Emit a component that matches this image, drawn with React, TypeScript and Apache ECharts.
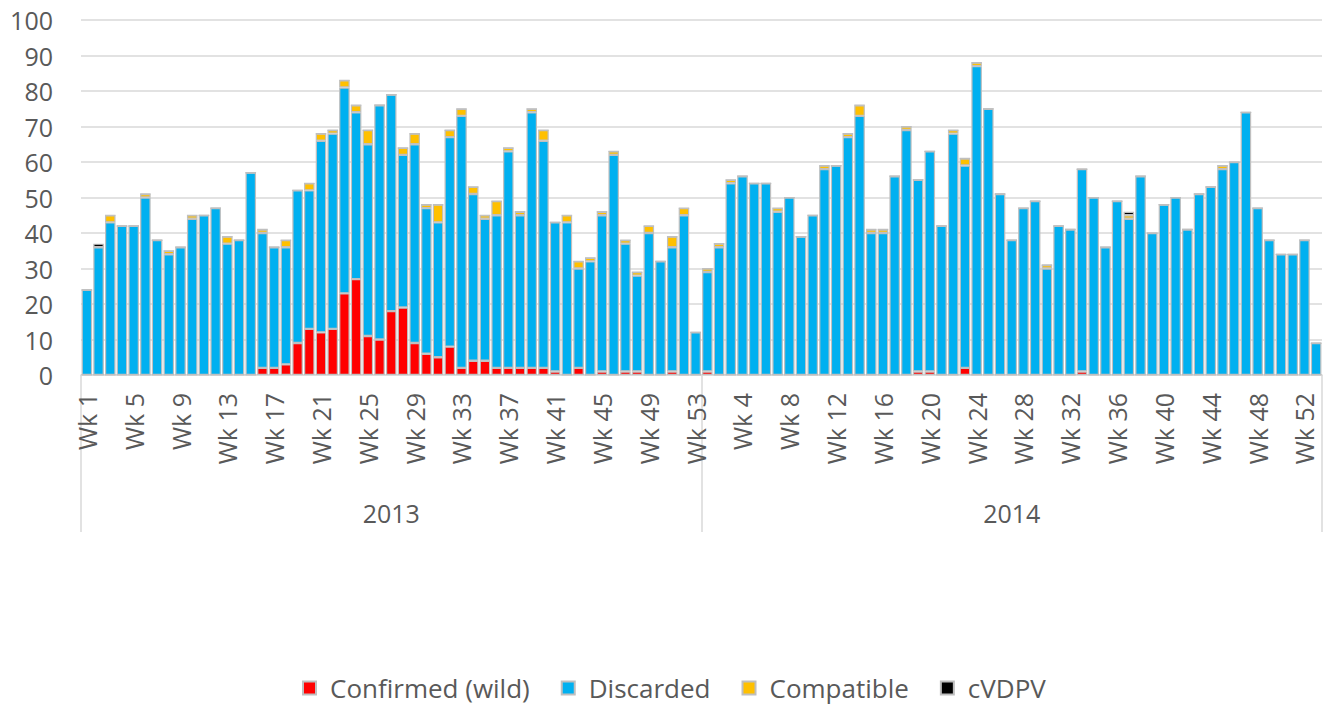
import React, { useEffect, useRef } from 'react';
import * as echarts from 'echarts';

const years = ['2013', '2014'];
const weeksPerYear = [53, 53];
const yTicks = { min: 0, max: 100, interval: 10 };

// 2013, weeks 1..53
const confirmed2013 = [0,0,0,0,0,0,0,0,0,0,0,0,0,0,0,2,2,3,9,13,12,13,23,27,11,10,18,19,9,6,5,8,2,4,4,2,2,2,2,2,1,0,2,0,1,0,1,1,0,0,1,0,0];
const discarded2013 = [24,36,43,42,42,50,38,34,36,44,45,47,37,38,57,38,34,33,43,39,54,55,58,47,54,66,61,43,56,41,38,59,71,47,40,43,61,43,72,64,42,43,28,32,44,62,36,27,40,32,35,45,12];
const compatible2013 = [0,0,2,0,0,1,0,1,0,1,0,0,2,0,0,1,0,2,0,2,2,1,2,2,4,0,0,2,3,1,5,2,2,2,1,4,1,1,1,3,0,2,2,1,1,1,1,1,2,0,3,2,0];
const cvdpv2013 = [0,1,0,0,0,0,0,0,0,0,0,0,0,0,0,0,0,0,0,0,0,0,0,0,0,0,0,0,0,0,0,0,0,0,0,0,0,0,0,0,0,0,0,0,0,0,0,0,0,0,0,0,0];

// 2014, weeks 1..53
const confirmed2014 = [1,0,0,0,0,0,0,0,0,0,0,0,0,0,0,0,0,0,1,1,0,0,2,0,0,0,0,0,0,0,0,0,1,0,0,0,0,0,0,0,0,0,0,0,0,0,0,0,0,0,0,0,0];
const discarded2014 = [28,36,54,56,54,54,46,50,39,45,58,59,67,73,40,40,56,69,54,62,42,68,57,87,75,51,38,47,49,30,42,41,57,50,36,49,44,56,40,48,50,41,51,53,58,60,74,47,38,34,34,38,9];
const compatible2014 = [1,1,1,0,0,0,1,0,0,0,1,0,1,3,1,1,0,1,0,0,0,1,2,1,0,0,0,0,0,1,0,0,0,0,0,0,1,0,0,0,0,0,0,0,1,0,0,0,0,0,0,0,0];
const cvdpv2014 = [0,0,0,0,0,0,0,0,0,0,0,0,0,0,0,0,0,0,0,0,0,0,0,0,0,0,0,0,0,0,0,0,0,0,0,0,1,0,0,0,0,0,0,0,0,0,0,0,0,0,0,0,0];

const seriesNames = ['Confirmed (wild)', 'Discarded', 'Compatible', 'cVDPV'];
const seriesColors = ['#FF0000', '#00B0F0', '#FFC000', '#000000'];

const FONT = '"Open Sans", sans-serif';
const TEXT = '#595959';
const GRID = '#D9D9D9';

export default function App() {
  const ref = useRef<HTMLDivElement>(null);
  useEffect(() => {
    if (!ref.current) return;
    const chart = echarts.init(ref.current, undefined, { renderer: 'svg' });

    const categories: string[] = [];
    years.forEach((y, i) => {
      for (let w = 1; w <= weeksPerYear[i]; w++) categories.push(`${y}|Wk ${w}`);
    });

    const seriesData = [
      confirmed2013.concat(confirmed2014),
      discarded2013.concat(discarded2014),
      compatible2013.concat(compatible2014),
      cvdpv2013.concat(cvdpv2014),
    ];

    chart.setOption({
      animation: false,
      backgroundColor: '#ffffff',
      textStyle: { fontFamily: FONT },
      grid: { left: 81, right: 11, top: 20, bottom: 333, containLabel: false },
      legend: {
        left: 297,
        top: 670,
        itemWidth: 13,
        itemHeight: 13,
        itemGap: 31,
        icon: 'rect',
        textStyle: { fontFamily: FONT, fontSize: 26, color: TEXT, padding: [0, 0, 0, 9] },
        data: seriesNames,
      },
      xAxis: [
        {
          type: 'category',
          data: categories,
          position: 'bottom',
          axisLine: { show: true, lineStyle: { color: GRID, width: 1.5 } },
          axisTick: { show: false },
          axisLabel: {
            interval: 3,
            rotate: 90,
            margin: 18,
            fontSize: 25,
            color: TEXT,
            fontFamily: FONT,
            formatter: (v: string) => v.split('|')[1],
          },
          splitLine: { show: false },
        },
        {
          type: 'category',
          data: years,
          position: 'bottom',
          axisLine: { show: false },
          axisTick: { show: true, length: 157, lineStyle: { color: GRID, width: 1.5 } },
          axisLabel: { margin: 125, fontSize: 25, color: TEXT, fontFamily: FONT },
          splitLine: { show: false },
        },
      ],
      yAxis: {
        type: 'value',
        min: yTicks.min,
        max: yTicks.max,
        interval: yTicks.interval,
        axisLine: { show: false },
        axisTick: { show: false },
        axisLabel: { fontSize: 25, color: TEXT, fontFamily: FONT, margin: 28 },
        splitLine: { lineStyle: { color: GRID, width: 1.5 } },
      },
      series: seriesNames.map((name, i) => ({
        name,
        type: 'bar',
        stack: 'total',
        xAxisIndex: 0,
        barCategoryGap: '10%',
        itemStyle: { color: seriesColors[i], borderColor: '#BFBFBF', borderWidth: 1.2 },
        emphasis: { disabled: true },
        data: seriesData[i],
      })),
    });

    return () => chart.dispose();
  }, []);

  return (
    <div
      ref={ref}
      style={{ position: 'fixed', left: 0, top: 0, width: 1333, height: 708, background: '#fff' }}
    />
  );
}
